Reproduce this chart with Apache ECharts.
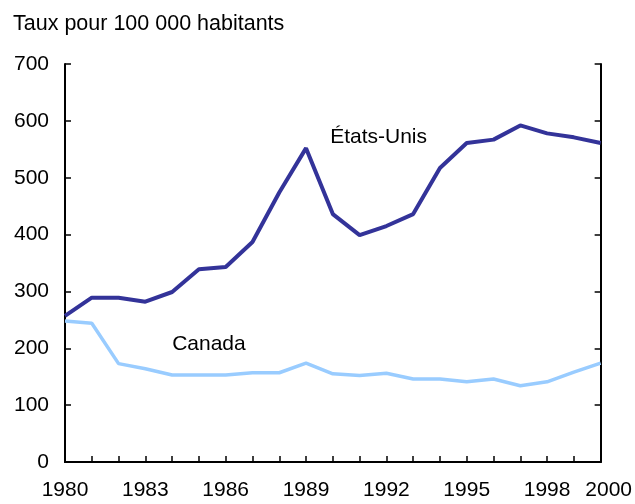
<!DOCTYPE html>
<html>
<head>
<meta charset="utf-8">
<script src="https://cdn.jsdelivr.net/npm/echarts@6/dist/echarts.min.js"></script>
<style>
html, body { margin: 0; padding: 0; background: #fff; }
#chart { width: 635px; height: 504px; }
</style>
</head>
<body>
<div id="chart"></div>
<script>
// années et taux pour 100 000 habitants
var years = [1980, 1981, 1982, 1983, 1984, 1985, 1986, 1987, 1988, 1989, 1990,
	1991, 1992, 1993, 1994, 1995, 1996, 1997, 1998, 1999, 2000];
var usValues = [257, 289, 289, 282, 299, 339, 343, 387, 474, 552, 436,
	399, 415, 436, 517, 561, 567, 592, 578, 571, 561];
var canadaValues = [248, 244, 173, 164, 153, 153, 153, 157, 157, 174, 155,
	152, 156, 146, 146, 141, 146, 134, 141, 158, 174];
var yearLabels = [1980, 1983, 1986, 1989, 1992, 1995, 1998, 2000];

var font = "'Liberation Sans', Arial, sans-serif";

function toPairs(values) {
	var out = [];
	for (var i = 0; i < years.length; i++) {
		out.push([years[i], values[i]]);
	}
	return out;
}

function seriesLabel(text, coord) {
	return {
		symbol : 'circle',
		symbolSize : 0,
		silent : true,
		data : [ {
			coord : coord,
			label : {
				show : true,
				formatter : text,
				position : 'inside',
				align : 'left',
				verticalAlign : 'middle',
				color : '#000',
				fontSize : 21,
				fontFamily : font
			}
		} ]
	};
}

var myChart = echarts.init(document.getElementById('chart'));
var option = {
	animation : false,
	backgroundColor : '#fff',
	title : {
		text : 'Taux pour 100 000 habitants',
		left : 8,
		top : 8,
		textStyle : {
			fontSize : 21.5,
			fontWeight : 'normal',
			color : '#000',
			fontFamily : font
		}
	},
	grid : {
		left : 65,
		right : 34,
		top : 64,
		bottom : 42
	},
	xAxis : [ {
		type : 'value',
		min : 1980,
		max : 2000,
		interval : 1,
		axisLine : { lineStyle : { color : '#000', width : 2 } },
		axisTick : { inside : true, length : 6, lineStyle : { color : '#000', width : 1.5 } },
		axisLabel : {
			margin : 18,
			fontSize : 21,
			color : '#000',
			fontFamily : font,
			formatter : function(v) {
				if (v === 2000) {
					return '{last|' + v + '}';
				}
				return yearLabels.indexOf(v) >= 0 ? String(v) : '';
			},
			rich : {
				last : {
					fontSize : 21,
					color : '#000',
					fontFamily : font,
					padding : [ 0, 0, 0, 16 ]
				}
			}
		},
		splitLine : { show : false }
	}, {
		type : 'value',
		position : 'top',
		min : 1980,
		max : 2000,
		interval : 1,
		axisLine : { show : true, lineStyle : { color : '#000', width : 2 } },
		axisTick : { show : false },
		axisLabel : { show : false },
		splitLine : { show : false }
	} ],
	yAxis : [ {
		type : 'value',
		min : 0,
		max : 700,
		interval : 100,
		axisLine : { show : true, lineStyle : { color : '#000', width : 2 } },
		axisTick : { show : true, inside : true, length : 6, lineStyle : { color : '#000', width : 1.5 } },
		axisLabel : {
			margin : 16,
			fontSize : 21,
			color : '#000',
			fontFamily : font
		},
		splitLine : { show : false }
	}, {
		type : 'value',
		position : 'right',
		min : 0,
		max : 700,
		interval : 100,
		axisLine : { show : true, lineStyle : { color : '#000', width : 2 } },
		axisTick : { show : true, inside : true, length : 6, lineStyle : { color : '#000', width : 1.5 } },
		axisLabel : { show : false },
		splitLine : { show : false }
	} ],
	series : [ {
		name : 'États-Unis',
		type : 'line',
		data : toPairs(usValues),
		symbol : 'none',
		lineStyle : { color : '#333399', width : 4 },
		z : 3,
		markPoint : seriesLabel('États-Unis', [1989.9, 572])
	}, {
		name : 'Canada',
		type : 'line',
		data : toPairs(canadaValues),
		symbol : 'none',
		lineStyle : { color : '#99ccff', width : 3.5 },
		z : 2,
		markPoint : seriesLabel('Canada', [1984.0, 208])
	} ]
};
myChart.setOption(option, true);
</script>
</body>
</html>
